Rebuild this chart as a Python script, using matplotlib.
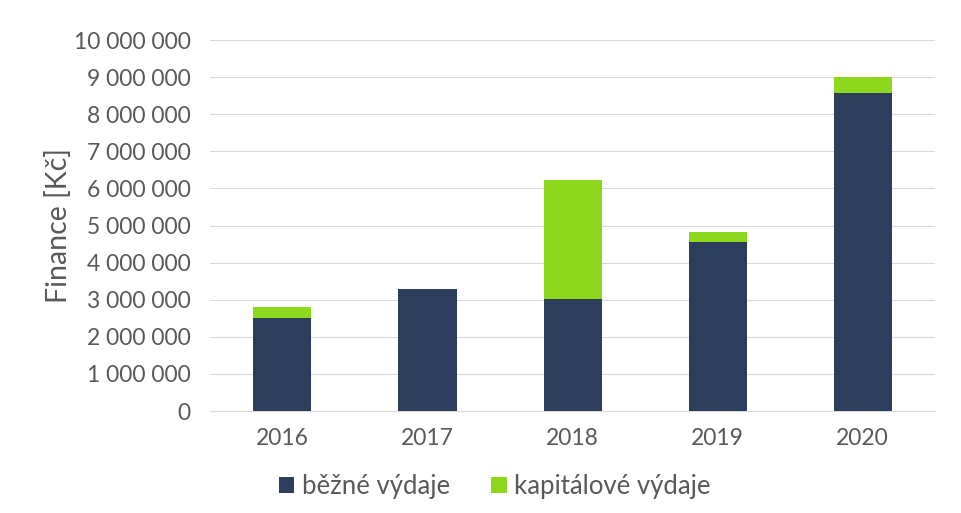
import matplotlib
matplotlib.use("Agg")
import matplotlib.pyplot as plt
from matplotlib.ticker import FuncFormatter, MultipleLocator

years = ["2016", "2017", "2018", "2019", "2020"]
bezne = [2510000, 3300000, 3010000, 4550000, 8560000]
kapitalove = [290000, 0, 3230000, 270000, 430000]

c_blue = "#2D3E5C"
c_green = "#8DD81C"
txt = "#595959"

plt.rcParams['font.family'] = ['Lato', 'DejaVu Sans']

fig = plt.figure(figsize=(9.61, 5.13), dpi=100)
ax = fig.add_axes([0.2185, 0.1988, 0.7545, 0.7232])

x = range(len(years))
ax.bar(x, bezne, width=0.4, color=c_blue, label="běžné výdaje", zorder=3)
ax.bar(x, kapitalove, width=0.4, bottom=bezne, color=c_green, label="kapitálové výdaje", zorder=3)

ax.set_xlim(-0.5, 4.5)
ax.set_ylim(0, 10000000)
ax.yaxis.set_major_locator(MultipleLocator(1000000))
ax.yaxis.set_major_formatter(FuncFormatter(lambda v, p: f"{int(v):,}".replace(",", " ")))
ax.set_xticks(list(x))
ax.set_xticklabels(years)
ax.grid(axis="y", color="#D9D9D9", linewidth=0.8, zorder=0)
for s in ["top", "right", "left"]:
    ax.spines[s].set_visible(False)
ax.spines["bottom"].set_color("#D9D9D9")
ax.tick_params(axis="both", length=0, colors=txt, labelsize=16.5)
ax.tick_params(axis="x", pad=12)
ax.tick_params(axis="y", pad=14)
ax.set_ylabel("Finance [Kč]", color=txt, fontsize=20.5, labelpad=1)

leg = fig.legend(loc="center", bbox_to_anchor=(0.515, 0.052), ncol=2, frameon=False,
                 fontsize=18.5, handlelength=0.6, handleheight=0.6, handletextpad=0.3, columnspacing=1.6)
for t in leg.get_texts():
    t.set_color(txt)

fig.savefig("out.png", dpi=100)
